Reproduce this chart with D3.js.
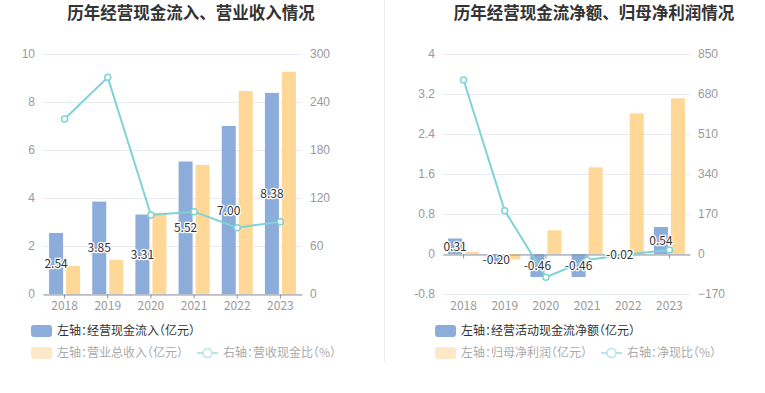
<!DOCTYPE html>
<html><head><meta charset="utf-8">
<script src="https://cdn.jsdelivr.net/npm/d3@7"></script>
<style>
html,body{margin:0;padding:0;background:#fff;}
svg{display:block;font-family:"Noto Sans CJK SC","Noto Sans",sans-serif;}
.lgt{font-feature-settings:"halt";}
</style></head>
<body><svg id="c" width="765" height="393"></svg>
<script>
const years = ["2018","2019","2020","2021","2022","2023"];
// Left chart
const cashInflow = [2.54, 3.85, 3.31, 5.52, 7.00, 8.38];
const revenue = [1.17, 1.42, 3.39, 5.38, 8.46, 9.26];
const cashRatio = [218.8, 270.8, 98.8, 102.9, 82.9, 90.4];
const leftTicksL = [0, 2, 4, 6, 8, 10];
const leftTicksR = [0, 60, 120, 180, 240, 300];
// Right chart
const netCashFlow = [0.31, -0.20, -0.46, -0.46, -0.02, 0.54];
const netProfit = [0.042, -0.107, 0.473, 1.733, 2.813, 3.113];
const netRatio = [739.5, 184.0, -99.0, -25.5, -0.7, 17.4];
const rightTicksL = [-0.8, 0, 0.8, 1.6, 2.4, 3.2, 4];
const rightTicksR = [-170, 0, 170, 340, 510, 680, 850];

const titles = ["历年经营现金流入、营业收入情况", "历年经营现金流净额、归母净利润情况"];
const legendLeft = ["左轴：经营现金流入（亿元）", "左轴：营业总收入（亿元）", "右轴：营收现金比（%）"];
const legendRight = ["左轴：经营活动现金流净额（亿元）", "左轴：归母净利润（亿元）", "右轴：净现比（%）"];

const BLUE = "#8cacd9", ORANGE = "#ffd796", TEAL = "#7fd3d7";
const svg = d3.select("#c");

// divider
svg.append("line").attr("x1",384.5).attr("x2",384.5).attr("y1",0).attr("y2",363)
  .attr("stroke","#eeeeee").attr("stroke-width",1);

function drawChart(cfg){
  const g = svg.append("g");
  const top = 54, bottom = 294;
  const x0 = d3.scaleBand().domain(years).range([cfg.x0, cfg.x1]);
  const x1 = d3.scaleBand().domain(["a","b"]).range([0,31]).paddingInner(2 - 31/17);
  const y = d3.scaleLinear().domain(cfg.yDom).range([bottom, top]);
  const yR = d3.scaleLinear().domain(cfg.yRDom).range([bottom, top]);
  const cx = d => x0(d) + x0.bandwidth()/2;

  // title
  g.append("text").attr("x", cfg.titleX).attr("y", 19).attr("text-anchor","middle")
    .attr("font-size", 16.5).attr("font-weight","bold").attr("fill","#333").text(cfg.title);

  // grid
  g.selectAll(".grid").data(cfg.ticksL).join("line")
    .attr("x1", cfg.x0).attr("x2", cfg.x1)
    .attr("y1", d => Math.round(y(d))+0.5).attr("y2", d => Math.round(y(d))+0.5)
    .attr("stroke", "#e6eaf2").attr("stroke-width", 1);

  // left axis labels
  const axL = d3.axisLeft(y).tickValues(cfg.ticksL).tickSize(0).tickPadding(8)
    .tickFormat(cfg.fmtL);
  const gL = g.append("g").attr("transform", `translate(${cfg.x0},0)`).call(axL);
  gL.select(".domain").remove();
  gL.selectAll("text").attr("fill","#999").attr("font-size",12).attr("font-family","inherit");

  const axR = d3.axisRight(yR).tickValues(cfg.ticksR).tickSize(0).tickPadding(8);
  const gR = g.append("g").attr("transform", `translate(${cfg.x1},0)`).call(axR);
  gR.select(".domain").remove();
  gR.selectAll("text").attr("fill","#999").attr("font-size",12).attr("font-family","inherit");

  // bars
  const yz = y(0);
  const bars = g.append("g");
  bars.selectAll(".b1").data(years).join("rect")
    .attr("x", (d) => cx(d) - 15.5 + x1("a"))
    .attr("width", x1.bandwidth())
    .attr("y", (d,i) => Math.min(y(cfg.s1[i]), yz))
    .attr("height", (d,i) => Math.abs(y(cfg.s1[i]) - yz))
    .attr("fill", BLUE);
  bars.selectAll(".b2").data(years).join("rect")
    .attr("x", (d) => cx(d) - 15.5 + x1("b"))
    .attr("width", x1.bandwidth())
    .attr("y", (d,i) => Math.min(y(cfg.s2[i]), yz))
    .attr("height", (d,i) => Math.abs(y(cfg.s2[i]) - yz))
    .attr("fill", ORANGE);

  // x axis
  const axX = d3.axisBottom(x0).tickSize(4).tickSizeOuter(0).tickFormat(() => "");
  const gX = g.append("g").attr("transform", `translate(0,${Math.round(yz)+0.5})`).call(axX);
  gX.select(".domain").attr("stroke","#8f949c");
  gX.selectAll(".tick line").attr("stroke","#8f949c");
  g.selectAll(".xl").data(years).join("text")
    .attr("x", d => cx(d)).attr("y", 309.5).attr("text-anchor","middle")
    .attr("font-size",12).attr("fill","#999").text(d => d);

  // line
  const line = d3.line().x((d,i) => cx(years[i])).y(d => yR(d));
  g.append("path").datum(cfg.s3).attr("d", line).attr("fill","none")
    .attr("stroke", TEAL).attr("stroke-width", 2);
  g.selectAll(".pt").data(cfg.s3).join("circle")
    .attr("cx", (d,i) => cx(years[i])).attr("cy", d => yR(d)).attr("r", 3)
    .attr("fill","#fff").attr("stroke", TEAL).attr("stroke-width", 1.5);

  // labels
  g.selectAll(".lb").data(cfg.s1).join("text")
    .attr("x", (d,i) => cx(years[i]) - 15.5 + x1("a") + x1.bandwidth()/2)
    .attr("y", d => (y(d) + yz)/2 + 4.5)
    .attr("text-anchor","middle").attr("font-size",12).attr("fill","#333")
    .attr("stroke","#fff").attr("stroke-width",2.5).attr("paint-order","stroke")
    .attr("stroke-linejoin","round")
    .text(d => d.toFixed(2));

  // legend
  const lg = g.append("g").attr("class","lgt");
  lg.append("rect").attr("x", cfg.lx).attr("y", 325).attr("width", 21).attr("height", 12)
    .attr("rx", 3).attr("fill", BLUE);
  lg.append("text").attr("x", cfg.lx + 26).attr("y", 335).attr("font-size",12)
    .attr("fill","#333").text(cfg.legend[0]);
  lg.append("rect").attr("x", cfg.lx).attr("y", 347).attr("width", 21).attr("height", 12)
    .attr("rx", 3).attr("fill", "#fee8c8");
  lg.append("text").attr("x", cfg.lx + 26).attr("y", 357).attr("font-size",12)
    .attr("fill","#aaa").text(cfg.legend[1]);
  lg.append("line").attr("x1", cfg.lx2).attr("x2", cfg.lx2 + 21).attr("y1", 353).attr("y2", 353)
    .attr("stroke", "#b3e6e8").attr("stroke-width", 2);
  lg.append("circle").attr("cx", cfg.lx2 + 10.5).attr("cy", 353).attr("r", 4.5)
    .attr("fill","#fff").attr("stroke","#b3e6e8").attr("stroke-width",1.5);
  lg.append("text").attr("x", cfg.lx2 + 26).attr("y", 357).attr("font-size",12)
    .attr("fill","#aaa").text(cfg.legend[2]);
}

drawChart({x0:43, x1:302, titleX:191, title:titles[0],
  yDom:[0,10], yRDom:[0,300], ticksL:leftTicksL, ticksR:leftTicksR,
  fmtL: d3.format("d"),
  s1:cashInflow, s2:revenue, s3:cashRatio, legend:legendLeft, lx:31, lx2:197});
drawChart({x0:443, x1:690, titleX:594, title:titles[1],
  yDom:[-0.8,4], yRDom:[-170,850], ticksL:rightTicksL, ticksR:rightTicksR,
  fmtL: d => (Math.round(d*10)/10).toString(),
  s1:netCashFlow, s2:netProfit, s3:netRatio, legend:legendRight, lx:435, lx2:601});
</script></body></html>
